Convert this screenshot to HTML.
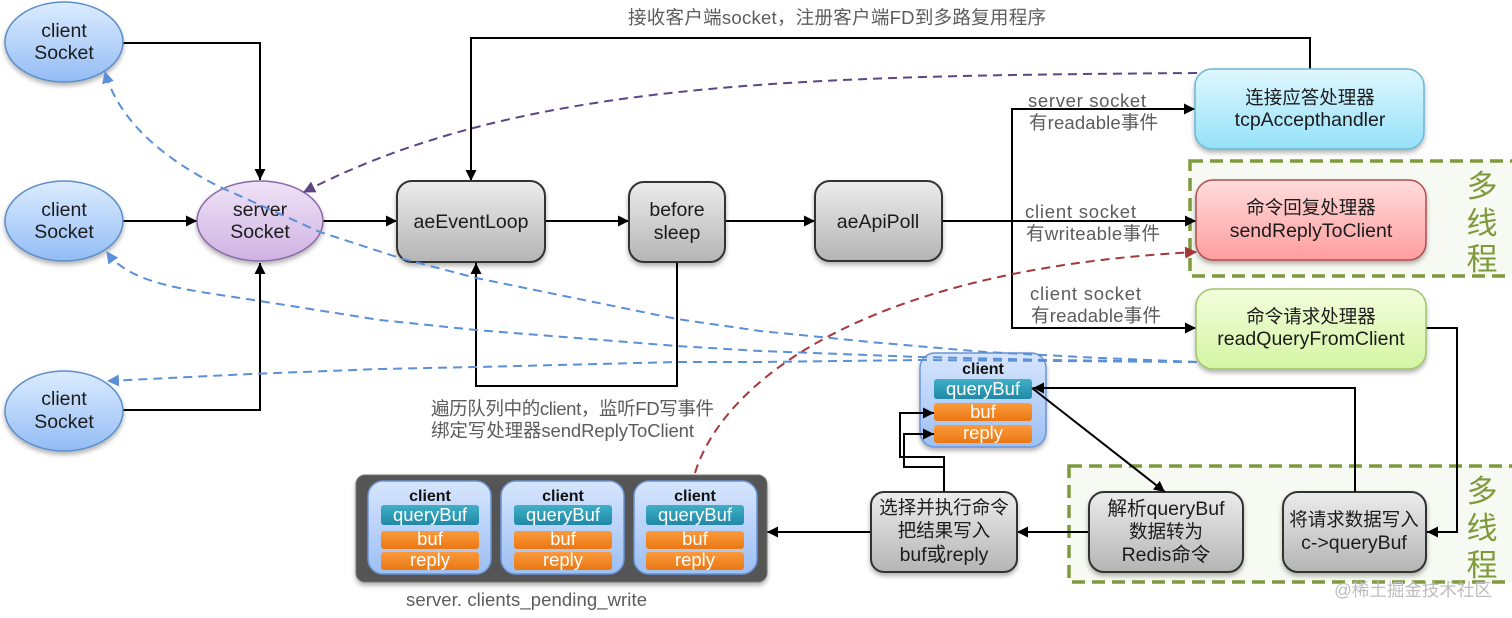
<!DOCTYPE html>
<html><head><meta charset="utf-8"><style>
html,body{margin:0;padding:0;background:#fff;width:1512px;height:618px;overflow:hidden}
svg{display:block}
text{font-family:"Liberation Sans","Noto Sans CJK SC",sans-serif;text-anchor:middle}
.d{font-size:19.5px;fill:#1c1c1c}
.n{font-size:18.5px;fill:#1c1c1c}
.g{font-size:18.5px;fill:#5c5c5c;text-anchor:start}
.c{font-size:16px;font-weight:bold;fill:#111}
.w{font-size:18.5px;fill:#fff}
.m{font-size:31px;fill:#7f9a3c}
.l{fill:none;stroke:#000;stroke-width:2}
.b{fill:none;stroke:#5b8fd8;stroke-width:2;stroke-dasharray:9 6}
</style></head><body>
<svg width="1512" height="618" viewBox="0 0 1512 618" xmlns="http://www.w3.org/2000/svg">
<defs>
<linearGradient id="gb" x1="0" y1="0" x2="0" y2="1"><stop offset="0" stop-color="#dcecff"/><stop offset="1" stop-color="#93bcf5"/></linearGradient>
<linearGradient id="gp" x1="0" y1="0" x2="0" y2="1"><stop offset="0" stop-color="#efe3f6"/><stop offset="1" stop-color="#cfb2e3"/></linearGradient>
<linearGradient id="gg" x1="0" y1="0" x2="0" y2="1"><stop offset="0" stop-color="#ececec"/><stop offset="1" stop-color="#b4b4b4"/></linearGradient>
<linearGradient id="gc" x1="0" y1="0" x2="0" y2="1"><stop offset="0" stop-color="#dff7ff"/><stop offset="1" stop-color="#95e1f8"/></linearGradient>
<linearGradient id="gr" x1="0" y1="0" x2="0" y2="1"><stop offset="0" stop-color="#ffdcdc"/><stop offset="1" stop-color="#ff9d9f"/></linearGradient>
<linearGradient id="gl" x1="0" y1="0" x2="0" y2="1"><stop offset="0" stop-color="#f3fddc"/><stop offset="1" stop-color="#d4f5a3"/></linearGradient>
<linearGradient id="gk" x1="0" y1="0" x2="0" y2="1"><stop offset="0" stop-color="#d6e5fd"/><stop offset="1" stop-color="#9dbff3"/></linearGradient>
<linearGradient id="gt" x1="0" y1="0" x2="0" y2="1"><stop offset="0" stop-color="#3fb0c6"/><stop offset="1" stop-color="#2188a5"/></linearGradient>
<linearGradient id="go" x1="0" y1="0" x2="0" y2="1"><stop offset="0" stop-color="#fb9a3c"/><stop offset="1" stop-color="#ea7714"/></linearGradient>
<filter id="s" x="-20%" y="-20%" width="140%" height="150%"><feDropShadow dx="0" dy="3" stdDeviation="2.5" flood-color="#000" flood-opacity=".3"/></filter>
<marker id="a" markerUnits="userSpaceOnUse" markerWidth="14" markerHeight="14" refX="11" refY="6" orient="auto"><path d="M0 0.5L11 6L0 11.5z" fill="#000"/></marker>
<marker id="ab" markerUnits="userSpaceOnUse" markerWidth="14" markerHeight="14" refX="11" refY="6" orient="auto"><path d="M0 0L12 6L0 12z" fill="#5b8fd8"/></marker>
<marker id="ap" markerUnits="userSpaceOnUse" markerWidth="14" markerHeight="14" refX="11" refY="6" orient="auto"><path d="M0 0L12 6L0 12z" fill="#5e4583"/></marker>
<marker id="ar" markerUnits="userSpaceOnUse" markerWidth="14" markerHeight="14" refX="11" refY="6" orient="auto"><path d="M0 0L12 6L0 12z" fill="#a5383c"/></marker>
</defs>

<!-- multi-thread zones -->
<rect x="1190" y="161" width="330" height="115" fill="#f7faf2" stroke="#7f9a3c" stroke-width="3.5" stroke-dasharray="13 7"/>
<rect x="1069" y="466" width="450" height="116" fill="#f7faf2" stroke="#7f9a3c" stroke-width="3.5" stroke-dasharray="13 7"/>
<text class="m" x="1482" y="197">多</text><text class="m" x="1482" y="234">线</text><text class="m" x="1482" y="270">程</text>
<text class="m" x="1482" y="502">多</text><text class="m" x="1482" y="539">线</text><text class="m" x="1482" y="576">程</text>

<!-- connectors under nodes -->
<path class="l" d="M123 43H260V180" marker-end="url(#a)"/>
<path class="l" d="M123 221H197" marker-end="url(#a)"/>
<path class="l" d="M123 410H260V263" marker-end="url(#a)"/>
<path class="l" d="M323 221H397" marker-end="url(#a)"/>
<path class="l" d="M545 221H629" marker-end="url(#a)"/>
<path class="l" d="M725 221H815" marker-end="url(#a)"/>
<path class="l" d="M942 221H1196" marker-end="url(#a)"/>
<path class="l" d="M1195 109H1012V328H1196" marker-end="url(#a)"/>
<path class="l" d="M1012 109H1195" marker-end="url(#a)"/>
<path class="l" d="M1310 69V38H471V181" marker-end="url(#a)"/>
<path class="l" d="M677 262V386H476V263" marker-end="url(#a)"/>
<path class="l" d="M1426 328H1457V532H1427" marker-end="url(#a)"/>
<path class="l" d="M1089 532H1017" marker-end="url(#a)"/>
<path class="l" d="M871 532H767" marker-end="url(#a)"/>

<!-- ellipses -->
<ellipse cx="64" cy="42" rx="59" ry="40" fill="url(#gb)" stroke="#5c8fc9" stroke-width="1.5" filter="url(#s)"/>
<ellipse cx="64" cy="221" rx="59" ry="40" fill="url(#gb)" stroke="#5c8fc9" stroke-width="1.5" filter="url(#s)"/>
<ellipse cx="64" cy="411" rx="59" ry="40" fill="url(#gb)" stroke="#5c8fc9" stroke-width="1.5" filter="url(#s)"/>
<ellipse cx="260" cy="221" rx="63" ry="40" fill="url(#gp)" stroke="#8a68a8" stroke-width="1.5" filter="url(#s)"/>
<text class="d" x="64" y="37">client</text><text class="d" x="64" y="59">Socket</text>
<text class="d" x="64" y="216">client</text><text class="d" x="64" y="238">Socket</text>
<text class="d" x="64" y="405">client</text><text class="d" x="64" y="428">Socket</text>
<text class="d" x="260" y="216">server</text><text class="d" x="260" y="238">Socket</text>

<!-- gray boxes -->
<g fill="url(#gg)" stroke="#333" stroke-width="2" filter="url(#s)">
<rect x="397" y="181" width="148" height="81" rx="15"/>
<rect x="629" y="182" width="96" height="80" rx="15"/>
<rect x="815" y="181" width="127" height="80" rx="15"/>
<rect x="871" y="492" width="146" height="80" rx="13"/>
<rect x="1089" y="492" width="154" height="80" rx="15"/>
<rect x="1283" y="492" width="143" height="80" rx="15"/>
</g>
<text class="d" x="471" y="228">aeEventLoop</text>
<text class="d" x="677" y="216">before</text><text class="d" x="677" y="239">sleep</text>
<text class="d" x="878" y="228">aeApiPoll</text>
<text class="n" x="944" y="514">选择并执行命令</text>
<text class="n" x="944" y="537">把结果写入</text>
<text class="d" x="944" y="561">buf或reply</text>
<text class="d" x="1166" y="515">解析queryBuf</text>
<text class="n" x="1166" y="538">数据转为</text>
<text class="d" x="1166" y="561">Redis命令</text>
<text class="n" x="1354" y="526">将请求数据写入</text>
<text class="d" x="1354" y="549">c-&gt;queryBuf</text>

<!-- handlers -->
<rect x="1195" y="69" width="229" height="80" rx="17" fill="url(#gc)" stroke="#6ab8d6" stroke-width="1.5" filter="url(#s)"/>
<rect x="1196" y="180" width="230" height="80" rx="17" fill="url(#gr)" stroke="#b04c50" stroke-width="1.5" filter="url(#s)"/>
<rect x="1196" y="289" width="230" height="80" rx="17" fill="url(#gl)" stroke="#9cc46c" stroke-width="1.5" filter="url(#s)"/>
<text class="n" x="1310" y="104">连接应答处理器</text><text class="d" x="1310" y="126">tcpAccepthandler</text>
<text class="n" x="1311" y="214">命令回复处理器</text><text class="d" x="1311" y="237">sendReplyToClient</text>
<text class="n" x="1311" y="323">命令请求处理器</text><text class="d" x="1311" y="345">readQueryFromClient</text>

<!-- client stack -->
<rect x="920" y="353" width="126" height="94" rx="15" fill="url(#gk)" stroke="#6b94d6" stroke-width="1.5" filter="url(#s)"/>
<text class="c" x="983" y="374">client</text>
<rect x="934" y="379" width="98" height="20" rx="3" fill="url(#gt)"/><text class="w" x="983" y="395">queryBuf</text>
<rect x="934" y="403" width="98" height="18" rx="3" fill="url(#go)"/><text class="w" x="983" y="418">buf</text>
<rect x="934" y="425" width="98" height="18" rx="3" fill="url(#go)"/><text class="w" x="983" y="439">reply</text>

<path class="l" d="M1355 492V388H1033" marker-end="url(#a)"/>
<path class="l" d="M1032 388L1165 492" marker-end="url(#a)"/>
<path class="l" d="M944 492V457H900V413H934" marker-end="url(#a)"/>
<path class="l" d="M944 467H904V434H934" marker-end="url(#a)"/>

<!-- pending write -->
<rect x="356" y="475" width="411" height="107" rx="9" fill="#555" stroke="#777" filter="url(#s)"/>
<g fill="url(#gk)" stroke="#6b94d6" stroke-width="1.5">
<rect x="368" y="481" width="123" height="93" rx="15"/>
<rect x="501" y="481" width="123" height="93" rx="15"/>
<rect x="634" y="481" width="123" height="93" rx="15"/>
</g>
<g fill="url(#gt)"><rect x="381" y="505" width="98" height="20" rx="3"/><rect x="514" y="505" width="98" height="20" rx="3"/><rect x="646" y="505" width="98" height="20" rx="3"/></g>
<g fill="url(#go)"><rect x="381" y="531" width="98" height="18" rx="3"/><rect x="514" y="531" width="98" height="18" rx="3"/><rect x="646" y="531" width="98" height="18" rx="3"/>
<rect x="381" y="552" width="98" height="18" rx="3"/><rect x="514" y="552" width="98" height="18" rx="3"/><rect x="646" y="552" width="98" height="18" rx="3"/></g>
<text class="c" x="430" y="501">client</text><text class="c" x="563" y="501">client</text><text class="c" x="695" y="501">client</text>
<text class="w" x="430" y="521">queryBuf</text><text class="w" x="563" y="521">queryBuf</text><text class="w" x="695" y="521">queryBuf</text>
<text class="w" x="430" y="545">buf</text><text class="w" x="563" y="545">buf</text><text class="w" x="695" y="545">buf</text>
<text class="w" x="430" y="566">reply</text><text class="w" x="563" y="566">reply</text><text class="w" x="695" y="566">reply</text>

<!-- dashed curves -->
<path d="M1197 73C800 76 520 80 304 192" fill="none" stroke="#5e4583" stroke-width="2" stroke-dasharray="9 6" marker-end="url(#ap)"/>
<path class="b" d="M1197 362L1100 358L985 352L870 342L760 331L677 319L476 278L400 258L320 232L220 187C170 162 120 125 105 72" marker-end="url(#ab)"/>
<path class="b" d="M1197 362L1050 360L920 357L760 351L677 346L476 330L380 320L247 299C190 290 130 285 107 252" marker-end="url(#ab)"/>
<polyline class="b" points="1197 362 920 360 760 362 677 362 476 367 380 369 250 374 108 381" marker-end="url(#ab)"/>
<path d="M695 473C720 390 850 270 1196 252" fill="none" stroke="#a5383c" stroke-width="2" stroke-dasharray="9 6" marker-end="url(#ar)"/>

<!-- labels -->
<text class="g" x="628" y="24" textLength="418">接收客户端socket，注册客户端FD到多路复用程序</text>
<text class="g" x="1028" y="107" textLength="118">server socket</text><text class="g" x="1029" y="129" textLength="129">有readable事件</text>
<text class="g" x="1025" y="218" textLength="111">client socket</text><text class="g" x="1026" y="240" textLength="134">有writeable事件</text>
<text class="g" x="1030" y="300" textLength="111">client socket</text><text class="g" x="1031" y="322" textLength="130">有readable事件</text>
<text class="g" x="431" y="415" textLength="283">遍历队列中的client，监听FD写事件</text>
<text class="g" x="431" y="437" textLength="263">绑定写处理器sendReplyToClient</text>
<text class="g" x="406" y="606" textLength="241">server. clients_pending_write</text>
<text x="1413" y="596" style="font-size:17.5px;fill:#bdbdbd">@稀土掘金技术社区</text>
</svg>
</body></html>
